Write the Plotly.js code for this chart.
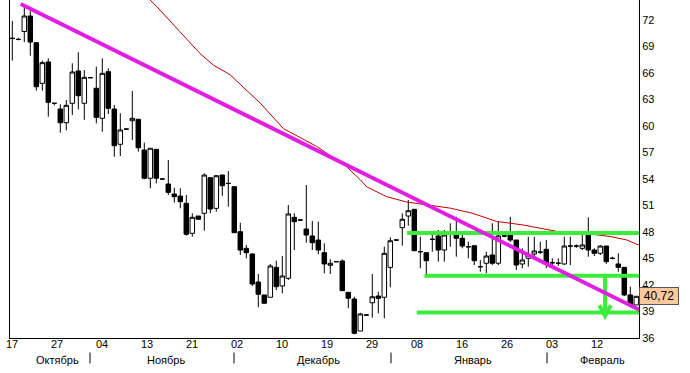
<!DOCTYPE html>
<html>
<head>
<meta charset="utf-8">
<script src="https://cdn.plot.ly/plotly-3.0.1.min.js"></script>
<style>html,body{margin:0;padding:0;background:#fff;}#chart{width:690px;height:373px;}</style>
</head>
<body>
<div id="chart"></div>
<script>
// OHLC values (one per bar, left to right)
const barOpen  = [69.95,69.8,70.7,72.45,69.43,64.83,67.25,62.57,61.92,60.37,62.57,66.23,62.57,65.47,64.27,60.87,66.15,61.92,57.93,59.65,60.6,60.76,57.28,54.08,57.36,54.0,53.43,52.3,52.07,51.25,47.85,49.81,50.12,54.15,50.68,54.45,53.5,53.13,48.03,46.15,45.51,42.34,40.87,40.61,44.0,41.89,42.76,49.66,49.36,48.34,47.55,47.09,45.66,44.23,44.64,44.72,41.17,40.41,36.79,38.6,39.99,40.75,40.61,44.0,47.09,48.49,49.81,50.57,45.77,45.66,47.17,47.55,45.96,47.74,47.66,47.29,46.33,46.45,44.07,44.46,45.4,44.46,47.55,47.66,47.09,44.38,45.02,45.51,45.72,46.04,44.52,44.46,44.38,46.41,46.41,46.15,47.66,45.96,45.59,46.41,45.02,44.38,44.0,40.87,39.74];
const barHigh  = [71.9,70.0,73.5,73.0,69.5,67.4,67.66,62.6,62.45,62.94,67.1,68.34,66.34,65.5,66.71,67.66,66.53,62.38,61.44,59.7,63.96,60.76,58.11,57.48,57.36,54.05,56.15,53.01,52.95,52.19,50.12,49.81,54.64,54.15,54.45,54.45,54.9,53.13,49.05,46.53,45.59,43.25,40.87,44.38,44.75,45.28,51.06,50.12,49.4,53.32,49.24,49.17,46.72,44.91,44.68,44.9,41.17,40.67,38.86,38.65,43.25,41.24,46.34,47.4,47.13,50.12,51.62,50.57,47.47,45.66,47.85,48.23,48.23,48.98,49.73,47.85,46.9,46.45,44.83,45.77,48.98,49.17,47.74,49.73,47.09,46.15,47.47,47.47,46.9,47.09,45.02,45.02,47.47,47.47,46.6,47.66,49.66,46.15,46.53,46.41,45.2,45.59,44.0,41.81,40.75];
const barLow   = [67.4,69.7,69.5,67.96,64.0,64.0,61.05,62.34,59.24,59.5,61.25,61.89,60.7,65.42,60.3,59.35,61.36,56.52,56.6,59.6,58.41,57.09,53.97,52.95,53.5,53.95,52.19,51.32,50.68,47.58,47.47,49.44,48.15,50.12,50.3,52.11,50.86,47.92,45.4,45.02,41.89,39.48,39.93,40.61,41.43,41.06,42.57,45.96,49.3,46.79,45.96,45.47,43.32,43.25,44.6,41.36,39.36,36.41,36.79,38.55,38.3,38.79,38.23,41.74,47.05,46.45,48.71,45.88,43.89,43.13,45.77,44.64,44.64,46.33,45.2,46.15,45.02,44.26,43.5,43.32,44.26,44.26,47.4,46.9,43.7,43.89,44.07,45.28,45.5,43.89,43.89,44.15,44.26,44.26,46.2,45.96,45.2,45.28,45.4,44.4,44.9,43.5,40.75,39.74,39.74];
const barClose = [69.9,69.8,72.45,69.5,64.45,67.17,62.68,62.57,60.37,62.34,66.11,63.43,65.51,65.47,60.98,65.96,62.0,57.77,59.55,59.65,60.87,57.54,54.08,57.48,54.08,54.0,52.49,52.0,51.43,47.74,49.66,49.44,54.45,50.6,54.37,53.24,53.5,47.92,45.96,45.66,42.11,40.95,39.93,44.15,41.81,43.02,50.04,49.17,49.36,47.66,46.79,45.96,44.38,44.46,44.64,41.36,40.5,36.53,38.72,38.6,40.67,40.49,45.59,47.01,47.09,49.44,50.41,45.88,45.77,44.75,47.17,45.96,47.66,47.74,47.29,46.41,46.33,44.75,44.07,45.28,44.46,47.55,47.55,47.09,44.26,44.83,45.4,45.85,45.72,44.52,44.52,44.46,46.41,46.41,46.41,46.53,45.96,45.59,46.41,44.64,45.02,44.0,40.87,39.74,40.72];

// moving average (red line), read at some bar positions
const maBar   = [21.0,22.9,24.1,27.9,31.3,33.5,36.3,41.3,45.2,50.7,55.7,58.0,59.1,62.4,65.7,73.0,76.8,80.7,85.1,91.3,95.2,99.6,102.4,104.5];
const maValue = [75.6,74.3,73.5,70.7,68.2,66.9,65.8,62.6,59.7,57.7,55.4,53.9,53.1,52.0,51.4,50.7,50.1,49.2,48.8,48.0,47.85,47.5,47.1,46.5];

// drawn trend line (magenta), support/resistance (green), target arrow
const trendBar   = [1.4, 105.7];
const trendValue = [73.81, 38.79];
const levelStartBar = [65.8, 68.7, 67.4];
const levelValue    = [47.9, 43.05, 38.9];
const arrowBar = 98.8;
const arrowFrom = 43.05, arrowTo = 38.5;
const lastPrice = 40.72;
const lastPriceLabel = "40,72";

// axis labels
const dayTickBar  = [-0.05,7.45,14.95,22.45,29.95,37.45,44.95,52.45,59.95,67.45,74.95,82.45,89.95,97.45];
const dayTickText = ["17","27","04","13","21","02","10","19","29","08","16","26","03","12"];
const monthBar  = [7.6,25.6,51.1,76.8,98.3];
const monthText = ["Октябрь","Ноябрь","Декабрь","Январь","Февраль"];
const monthSepBar = [12.95,36.95,63.12,89.12];

const xRange = [-0.383, 104.45];
const yRange = [36.0, 74.264];

const barIndex = barClose.map((_, i) => i);
const font = {family: '"Liberation Sans", Arial, sans-serif', size: 11, color: '#000'};

const traces = [
  {
    type: 'candlestick', x: barIndex,
    open: barOpen, high: barHigh, low: barLow, close: barClose,
    increasing: {line: {color: '#000', width: 1}, fillcolor: '#ffffff'},
    decreasing: {line: {color: '#000', width: 1}, fillcolor: '#000000'},
    whiskerwidth: 0, hoverinfo: 'skip', showlegend: false
  },
  {
    type: 'scatter', mode: 'lines', x: maBar, y: maValue,
    line: {color: '#c00000', width: 1}, hoverinfo: 'skip', showlegend: false
  }
];

const shapes = [];
// green levels
levelStartBar.forEach((b, i) => {
  shapes.push({type: 'line', xref: 'x', yref: 'y', x0: b, x1: xRange[1], y0: levelValue[i], y1: levelValue[i],
    line: {color: '#3cec3c', width: 4}, layer: 'above'});
});
// green arrow
shapes.push({type: 'line', xref: 'x', yref: 'y', x0: arrowBar, x1: arrowBar, y0: arrowFrom, y1: arrowTo,
  line: {color: '#3cec3c', width: 4}});
shapes.push({type: 'path', xref: 'x', yref: 'y',
  path: `M ${arrowBar - 0.95} ${arrowTo + 1.2} L ${arrowBar} ${arrowTo} L ${arrowBar + 0.95} ${arrowTo + 1.2}`,
  line: {color: '#3cec3c', width: 4}});
// magenta trend line
shapes.push({type: 'line', xref: 'x', yref: 'y', x0: trendBar[0], x1: trendBar[1], y0: trendValue[0], y1: trendValue[1],
  line: {color: '#e21ee2', width: 4}});
// month separators below the axis
monthSepBar.forEach(b => {
  shapes.push({type: 'line', xref: 'x', yref: 'paper', x0: b, x1: b, y0: -0.043, y1: -0.075,
    line: {color: '#000', width: 1}});
});

const annotations = monthText.map((t, i) => ({
  xref: 'x', yref: 'paper', x: monthBar[i], y: -0.064, text: t, showarrow: false,
  xanchor: 'center', yanchor: 'middle', font: font
}));
annotations.push({
  xref: 'paper', yref: 'y', x: 1, y: lastPrice, xanchor: 'left', yanchor: 'middle',
  text: lastPriceLabel, showarrow: false, bgcolor: '#fbc99c', bordercolor: '#555',
  borderwidth: 1, borderpad: 1, width: 36, height: 14,
  font: {family: font.family, size: 12, color: '#000'}
});

const layout = {
  width: 690, height: 373,
  margin: {l: 10, r: 51, t: 0, b: 35, pad: 0},
  paper_bgcolor: '#fff', plot_bgcolor: '#fff',
  showlegend: false, font: font,
  boxgap: 0.25, boxgroupgap: 0,
  xaxis: {
    range: xRange, rangeslider: {visible: false}, showgrid: false, zeroline: false,
    showline: true, linecolor: '#000', linewidth: 1, ticks: '', ticklabelstandoff: -4,
    tickmode: 'array', tickvals: dayTickBar, ticktext: dayTickText, tickfont: font, fixedrange: true
  },
  yaxis: {
    range: yRange, side: 'right', showgrid: false, zeroline: false,
    showline: true, mirror: true, linecolor: '#000', linewidth: 1, ticks: '',
    tick0: 36, dtick: 3, tickfont: font, fixedrange: true
  },
  shapes: shapes,
  annotations: annotations
};

Plotly.newPlot('chart', traces, layout, {displayModeBar: false, staticPlot: true});
</script>
</body>
</html>
